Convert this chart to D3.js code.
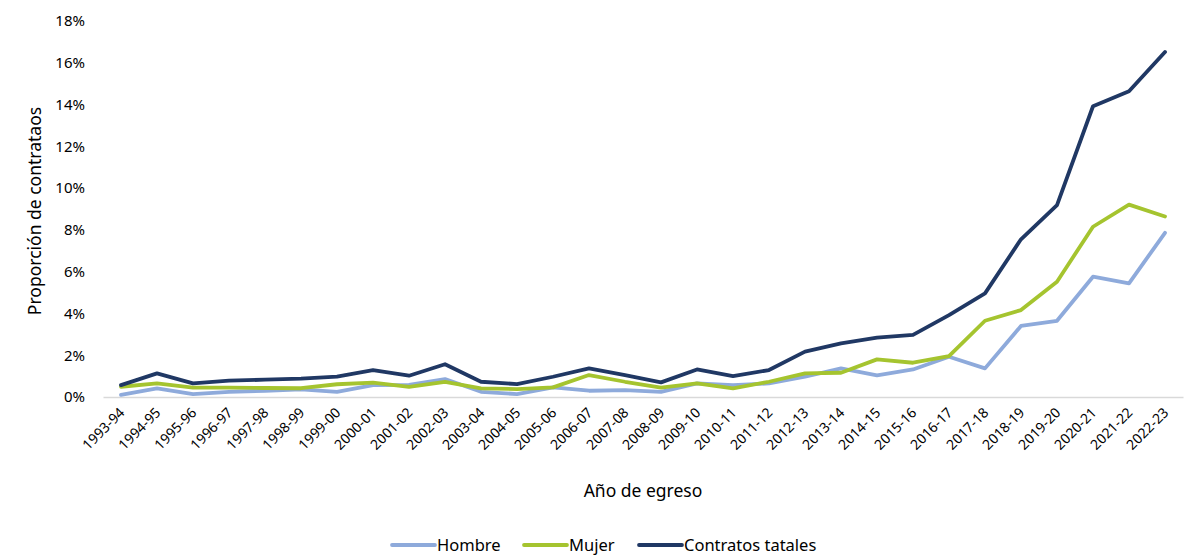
<!DOCTYPE html>
<html>
<head>
<meta charset="utf-8">
<script src="https://cdn.jsdelivr.net/npm/d3@7"></script>
<style>
  body { margin: 0; background: #fff; }
  text { font-family: "Noto Sans", "Open Sans", sans-serif; fill: #000; }
</style>
</head>
<body>
<div id="chart"></div>
<script>
// categories (año de egreso)
const years = ["1993-94","1994-95","1995-96","1996-97","1997-98","1998-99","1999-00","2000-01",
  "2001-02","2002-03","2003-04","2004-05","2005-06","2006-07","2007-08","2008-09","2009-10",
  "2010-11","2011-12","2012-13","2013-14","2014-15","2015-16","2016-17","2017-18","2018-19",
  "2019-20","2020-21","2021-22","2022-23"];

// values in %
const hombre = [0.10,0.41,0.14,0.25,0.30,0.37,0.25,0.57,0.58,0.86,0.25,0.14,0.46,0.30,0.33,0.25,
  0.65,0.57,0.65,0.97,1.37,1.04,1.32,1.93,1.37,3.40,3.65,5.76,5.44,7.86];
const mujer = [0.49,0.65,0.45,0.45,0.43,0.42,0.61,0.69,0.49,0.72,0.41,0.38,0.46,1.05,0.73,0.45,
  0.65,0.41,0.73,1.13,1.16,1.80,1.64,1.96,3.65,4.16,5.52,8.15,9.21,8.64];
const total = [0.57,1.13,0.65,0.78,0.83,0.88,0.98,1.29,1.02,1.57,0.73,0.62,0.97,1.37,1.05,0.70,
  1.32,1.00,1.29,2.17,2.57,2.84,2.97,3.92,4.96,7.55,9.19,13.92,14.64,16.52];

const yTicks = [0,2,4,6,8,10,12,14,16,18];

const series = [
  { name: "Hombre", values: hombre, color: "#8eaadb" },
  { name: "Mujer", values: mujer, color: "#a5c42f" },
  { name: "Contratos tatales", values: total, color: "#203864" }
];

const width = 1195, height = 556;
const margin = { top: 21, right: 12, bottom: 159, left: 103 };
const innerW = width - margin.left - margin.right,
      innerH = height - margin.top - margin.bottom;

const svg = d3.select("#chart").append("svg")
  .attr("width", width)
  .attr("height", height);

const x = d3.scaleBand()
  .domain(years)
  .range([0, innerW]);

const y = d3.scaleLinear()
  .domain([0, 18])
  .range([innerH, 0]);

const g = svg.append("g")
  .attr("transform", `translate(${margin.left},${margin.top})`);

// y axis labels (no line)
const yAxis = d3.axisLeft(y).tickValues(yTicks).tickFormat(d => d + "%").tickSize(0).tickPadding(18);
g.append("g").call(yAxis)
  .call(a => a.select(".domain").remove())
  .selectAll("text")
    .style("font-size", "15px")
    .style("font-family", "'Noto Sans', sans-serif")
    .attr("fill", "#000");

// x axis
const xAxis = d3.axisBottom(x).tickSize(0).tickPadding(0);
const xg = g.append("g")
  .attr("transform", `translate(0,${innerH})`)
  .call(xAxis);
xg.select(".domain").attr("stroke", "#d9d9d9").attr("stroke-width", 1.5);
xg.selectAll("text")
  .style("font-size", "14px")
  .style("font-family", "'Noto Sans', sans-serif")
  .attr("fill", "#000")
  .attr("text-anchor", "end")
  .attr("dy", "0.35em")
  .attr("transform", "translate(1,13) rotate(-45)");

// lines
const line = d3.line()
  .x((d, i) => x(years[i]) + x.bandwidth() / 2)
  .y(d => y(d));

g.selectAll("path.series")
  .data(series)
  .enter()
  .append("path")
    .classed("series", true)
    .attr("d", d => line(d.values))
    .attr("fill", "none")
    .attr("stroke", d => d.color)
    .attr("stroke-width", 3.8)
    .attr("stroke-linejoin", "round")
    .attr("stroke-linecap", "round");

// axis titles
svg.append("text")
  .text("Año de egreso")
  .attr("x", margin.left + innerW / 2)
  .attr("y", 497)
  .attr("text-anchor", "middle")
  .style("font-size", "17.5px");

svg.append("text")
  .text("Proporción de contrataos")
  .attr("text-anchor", "middle")
  .attr("transform", `translate(41,211) rotate(-90)`)
  .style("font-size", "17.5px");

// legend
const legendX = [392, 524, 639];
const legend = svg.append("g").selectAll("g")
  .data(series)
  .enter()
  .append("g")
    .attr("transform", (d, i) => `translate(${legendX[i]},545)`);
legend.append("line")
  .attr("x1", 0).attr("x2", 43)
  .attr("stroke", d => d.color)
  .attr("stroke-width", 3.8)
  .attr("stroke-linecap", "round");
legend.append("text")
  .text(d => d.name)
  .attr("x", 45)
  .attr("dy", "0.35em")
  .style("font-size", "16.5px");
</script>
</body>
</html>
